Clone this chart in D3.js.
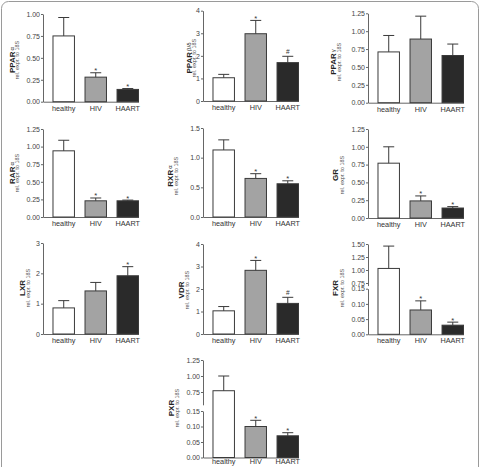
<!DOCTYPE html>
<html>
<head>
<meta charset="utf-8">
<script src="https://cdn.jsdelivr.net/npm/d3@7"></script>
<style>
  body { margin: 0; background: #fff; }
  svg { display: block; font-family: "Liberation Sans", Arial, sans-serif; }
</style>
</head>
<body>
<div id="chart"></div>
<script>
// ---- data ----
const groups = ["healthy", "HIV", "HAART"];
const receptorBase = ["PPAR", "PPAR", "PPAR", "RAR", "RXR", "GR", "LXR", "VDR", "FXR", "PXR"];
const receptorGreek = ["α", "β/δ", "γ", "α", "α", "", "", "", "", ""];
const means = [
  [0.75, 0.28, 0.14],
  [1.03, 2.98, 1.70],
  [0.71, 0.89, 0.66],
  [0.94, 0.23, 0.23],
  [1.13, 0.65, 0.56],
  [0.77, 0.24, 0.14],
  [0.86, 1.42, 1.92],
  [1.03, 2.83, 1.36],
  [1.03, 0.08, 0.03],
  [0.77, 0.10, 0.07]
];
const sems = [
  [0.21, 0.05, 0.01],
  [0.15, 0.59, 0.28],
  [0.23, 0.32, 0.16],
  [0.15, 0.04, 0.01],
  [0.17, 0.08, 0.05],
  [0.23, 0.07, 0.02],
  [0.24, 0.28, 0.30],
  [0.19, 0.44, 0.27],
  [0.43, 0.03, 0.01],
  [0.23, 0.02, 0.01]
];
const marks = [
  ["", "*", "*"],
  ["", "*", "#"],
  ["", "", ""],
  ["", "*", "*"],
  ["", "*", "*"],
  ["", "*", "*"],
  ["", "", "*"],
  ["", "*", "#"],
  ["", "*", "*"],
  ["", "*", "*"]
];
const ticks = [
  [0, 0.25, 0.5, 0.75, 1.0],
  [0, 1, 2, 3, 4],
  [0, 0.25, 0.5, 0.75, 1.0, 1.25],
  [0, 0.25, 0.5, 0.75, 1.0, 1.25],
  [0, 0.5, 1.0, 1.5],
  [0, 0.25, 0.5, 0.75, 1.0, 1.25],
  [0, 1, 2, 3],
  [0, 1, 2, 3, 4],
  null,
  null
];
// broken axes (FXR, PXR)
const upperTicks = [null, null, null, null, null, null, null, null, [0.75, 1.0, 1.25, 1.5], [0.75, 1.0, 1.25]];
const lowerTicks = [null, null, null, null, null, null, null, null, [0, 0.05, 0.10, 0.15], [0, 0.05, 0.10, 0.15]];
const tickFormats = [".2f", "d", ".2f", ".2f", ".1f", ".2f", "d", "d", ".2f", ".2f"];

// ---- layout ----
// lx = bold label column, rx = "rel. expr." column
const layout = [
  { ax: 43,  top: 14,    base: 101.7, lx: 11.5, rx: 17,  ly: 60 },
  { ax: 203, top: 10.7,  base: 101,   lx: 188.5, rx: 194, ly: 58 },
  { ax: 368, top: 13.3,  base: 102.7, lx: 333, rx: 339, ly: 62 },
  { ax: 43,  top: 129,   base: 217,   lx: 11.5, rx: 17,  ly: 173 },
  { ax: 203, top: 128,   base: 217,   lx: 170, rx: 175.5, ly: 176 },
  { ax: 368, top: 129,   base: 218,   lx: 335, rx: 342, ly: 175 },
  { ax: 43,  top: 243,   base: 334,   lx: 21.5, rx: 28,  ly: 288 },
  { ax: 203, top: 244,   base: 334,   lx: 180.5, rx: 186.5, ly: 290 },
  { ax: 368, top: 244,   base: 334.3, lx: 335, rx: 342, ly: 288,
    upper: { dom: [0.70, 1.50], rng: [285.6, 244] }, lower: { dom: [0, 0.15], rng: [334.3, 288.7] } },
  { ax: 203, top: 360,   base: 457.5, lx: 170.5, rx: 176.5, ly: 408, xpad: 1.5,
    upper: { dom: [0.55, 1.25], rng: [404.8, 360] }, lower: { dom: [0, 0.15], rng: [457.5, 411] } }
];

const fills = ["#ffffff", "#a3a3a3", "#2a2a2a"];
const W = 481, H = 467;

const svg = d3.select("#chart").append("svg")
  .attr("width", W)
  .attr("height", H);

// outer frame
svg.append("rect")
  .attr("x", 1.5).attr("y", 1.5)
  .attr("width", 477).attr("height", 490)
  .attr("rx", 7)
  .attr("fill", "none")
  .attr("stroke", "#9a9a9a")
  .attr("stroke-width", 1);

layout.forEach((L, i) => {
  const g = svg.append("g");

  // y scale(s)
  let yOf;
  if (L.upper) {
    const yU = d3.scaleLinear().domain(L.upper.dom).range(L.upper.rng);
    const yL = d3.scaleLinear().domain(L.lower.dom).range(L.lower.rng);
    yOf = v => (v > L.lower.dom[1] ? yU(v) : yL(v));

    [[yU, upperTicks[i]], [yL, lowerTicks[i]]].forEach(([sc, tv]) => {
      g.append("g")
        .attr("class", "yaxis")
        .attr("transform", `translate(${L.ax},0)`)
        .call(d3.axisLeft(sc).tickValues(tv).tickSize(2).tickSizeOuter(0)
          .tickPadding(1).tickFormat(d3.format(tickFormats[i])));
    });
  } else {
    const y = d3.scaleLinear().domain([0, d3.max(ticks[i])]).range([L.base, L.top]);
    yOf = y;
    g.append("g")
      .attr("class", "yaxis")
      .attr("transform", `translate(${L.ax},0)`)
      .call(d3.axisLeft(y).tickValues(ticks[i]).tickSize(2).tickSizeOuter(0)
        .tickPadding(1).tickFormat(d3.format(tickFormats[i])));
  }

  // x scale
  const x = d3.scaleBand()
    .domain(groups)
    .range([L.ax, L.ax + 95.5])
    .paddingInner(0.33)
    .paddingOuter(0.156)
    .align(1);

  g.append("g")
    .attr("class", "xaxis")
    .attr("transform", `translate(0,${L.base})`)
    .call(d3.axisBottom(x).tickSize(0).tickSizeOuter(0).tickPadding(L.xpad || 4));

  const rows = groups.map((grp, j) => ({ grp, j, m: means[i][j], s: sems[i][j], mk: marks[i][j] }));

  // bars
  g.selectAll("rect.bar")
    .data(rows)
    .enter().append("rect")
    .attr("class", "bar")
    .attr("x", d => x(d.grp))
    .attr("y", d => yOf(d.m))
    .attr("width", x.bandwidth())
    .attr("height", d => L.base - yOf(d.m))
    .attr("fill", d => fills[d.j])
    .attr("stroke", "#3a3a3a")
    .attr("stroke-width", 1);

  // error bars (upper whisker only)
  const cap = 5.5;
  rows.forEach(d => {
    const cx = x(d.grp) + x.bandwidth() / 2;
    const yTop = yOf(d.m + d.s);
    g.append("line")
      .attr("x1", cx).attr("x2", cx)
      .attr("y1", yOf(d.m)).attr("y2", yTop)
      .attr("stroke", "#3a3a3a").attr("stroke-width", 1);
    g.append("line")
      .attr("x1", cx - cap).attr("x2", cx + cap)
      .attr("y1", yTop).attr("y2", yTop)
      .attr("stroke", "#3a3a3a").attr("stroke-width", 1);
    if (d.mk) {
      g.append("text")
        .attr("x", cx)
        .attr("y", d.mk === "#" ? yTop - 2.5 : yTop + 0.5)
        .attr("text-anchor", "middle")
        .style("font-size", d.mk === "#" ? "6.5px" : "7.5px")
        .style("fill", "#333")
        .text(d.mk);
    }
  });

  // y labels
  const lab = g.append("text")
    .attr("transform", `translate(${L.lx},${L.ly}) rotate(-90)`)
    .attr("text-anchor", "middle")
    .attr("dominant-baseline", "central")
    .style("font-size", "8px")
    .style("font-weight", "bold")
    .style("fill", "#222");
  lab.append("tspan").text(receptorBase[i]);
  if (receptorGreek[i]) {
    lab.append("tspan")
      .attr("dx", 1)
      .style("font-size", "6px")
      .style("font-weight", "normal")
      .text(receptorGreek[i]);
  }

  g.append("text")
    .attr("transform", `translate(${L.rx},${L.ly}) rotate(-90)`)
    .attr("text-anchor", "middle")
    .attr("dominant-baseline", "central")
    .style("font-size", "5.5px")
    .style("fill", "#555")
    .text("rel. expr. to 18S");
});

// axis styling
svg.selectAll(".yaxis path, .yaxis line, .xaxis path")
  .attr("stroke", "#555")
  .attr("stroke-width", 0.9);
svg.selectAll(".yaxis text")
  .style("font-size", "7px")
  .style("font-family", "'Liberation Sans', Arial, sans-serif")
  .style("fill", "#444");
svg.selectAll(".xaxis text")
  .style("font-size", "7.3px")
  .style("font-family", "'Liberation Sans', Arial, sans-serif")
  .style("fill", "#333");
</script>
</body>
</html>
